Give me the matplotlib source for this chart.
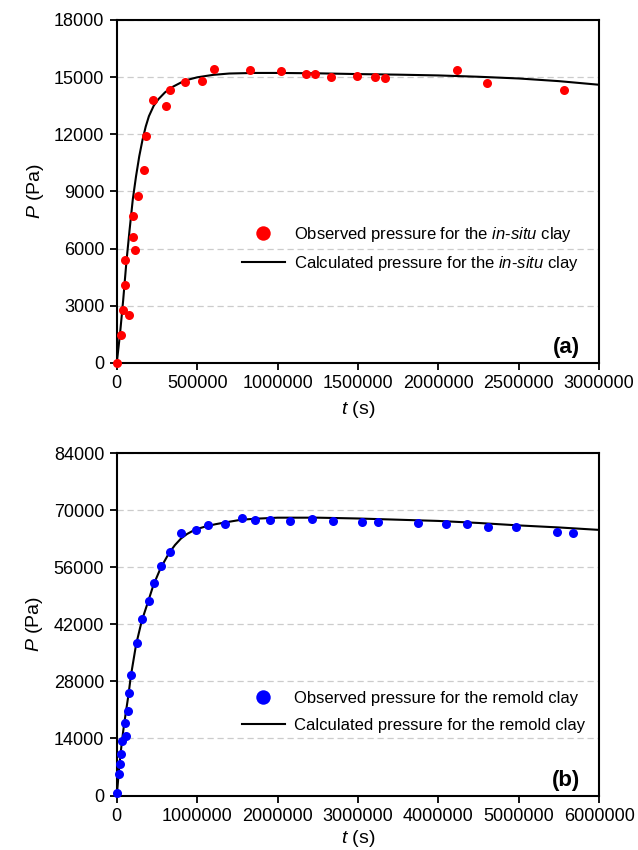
import numpy as np
import matplotlib
matplotlib.use("Agg")
import matplotlib.pyplot as plt

plt.rcParams['font.family'] = ['Liberation Sans', 'DejaVu Sans']
plt.rcParams['mathtext.fontset'] = 'custom'
plt.rcParams['mathtext.rm'] = 'Liberation Sans'
plt.rcParams['mathtext.it'] = 'Liberation Sans:italic'

# (a) in-situ clay, observed
t_obs_a = [0, 25000, 41500, 76800, 54000, 54000, 112000, 99600, 99600, 130700,
           170000, 180500, 228000, 305000, 332000, 423000, 529000, 602000, 828000,
           1023000, 1176000, 1230000, 1332000, 1496000, 1608000, 1666000,
           2114000, 2305000, 2780000]
p_obs_a = [0, 1490, 2760, 2520, 4070, 5420, 5940, 6590, 7690, 8740,
           10120, 11890, 13810, 13460, 14330, 14740, 14790, 15450, 15400,
           15310, 15140, 15140, 15030, 15050, 15010, 14960,
           15350, 14670, 14320]
# (a) calculated
t_calc_a = [0, 20000, 40000, 60000, 80000, 100000, 120000, 140000, 160000, 180000,
            200000, 230000, 260000, 300000, 350000, 400000, 450000, 500000, 600000,
            700000, 850000, 1000000, 1250000, 1500000, 1750000, 2000000, 2250000,
            2500000, 2750000, 3000000]
p_calc_a = [0, 1500, 3300, 5300, 7000, 8600, 9800, 10850, 11700, 12400,
            12950, 13500, 13850, 14200, 14500, 14720, 14880, 14990, 15120,
            15190, 15220, 15220, 15200, 15160, 15130, 15090, 15020,
            14930, 14790, 14600]

# (b) remold clay, observed
t_obs_b = [8300, 24900, 45600, 54000, 62000, 116000, 108000, 141000, 153500, 178000,
           249000, 315000, 402000, 469000, 548000, 660000, 801000, 983000, 1133000,
           1348000, 1552000, 1718000, 1909000, 2153000, 2427000, 2689000, 3050000,
           3249000, 3743000, 4100000, 4357000, 4618000, 4963000, 5473000, 5680000]
p_obs_b = [740, 5320, 7690, 10300, 13500, 14640, 17830, 20780, 25110, 29610,
           37380, 43270, 47770, 52190, 56440, 59710, 64380, 65280, 66500,
           66670, 68220, 67730, 67730, 67490, 67810, 67490, 67080,
           67240, 66910, 66670, 66670, 66010, 66010, 64700, 64380]
# (b) calculated
t_calc_b = [0, 20000, 40000, 60000, 80000, 110000, 145000, 175000, 240000, 310000,
            390000, 455000, 545000, 650000, 725000, 800000, 875000, 950000, 1030000,
            1115000, 1230000, 1340000, 1550000, 1735000, 2000000, 2500000, 3000000,
            3500000, 4000000, 4500000, 5000000, 5500000, 6000000]
p_calc_b = [0, 4500, 8800, 12500, 15800, 20000, 24600, 29300, 37000, 42800,
            47600, 51600, 55800, 59500, 61500, 63100, 64200, 65000, 65600,
            66100, 66600, 67000, 67700, 67950, 68200, 68200, 68000,
            67700, 67400, 66900, 66300, 65800, 65200]

xticks_a = [0, 500000, 1000000, 1500000, 2000000, 2500000, 3000000]
yticks_a = [0, 3000, 6000, 9000, 12000, 15000, 18000]
xticks_b = [0, 1000000, 2000000, 3000000, 4000000, 5000000, 6000000]
yticks_b = [0, 14000, 28000, 42000, 56000, 70000, 84000]

fig = plt.figure(figsize=(6.38, 8.5), dpi=100)
ax1 = fig.add_axes([0.183, 0.573, 0.756, 0.4035])
ax2 = fig.add_axes([0.183, 0.0641, 0.756, 0.4026])

panels = [
    (ax1, t_obs_a, p_obs_a, t_calc_a, p_calc_a, xticks_a, yticks_a, 'red',
     r'Observed pressure for the $\mathit{in}$-$\mathit{situ}$ clay',
     r'Calculated pressure for the $\mathit{in}$-$\mathit{situ}$ clay',
     '(a)', (0.259, 0.332), 0.62, 5),
    (ax2, t_obs_b, p_obs_b, t_calc_b, p_calc_b, xticks_b, yticks_b, 'blue',
     'Observed pressure for the remold clay',
     'Calculated pressure for the remold clay',
     '(b)', (0.259, 0.244), 0.72, 2),
]

for ax, to, po, tc, pc, xt, yt, col, lab_o, lab_c, tag, anchor, lsp, xpad in panels:
    ax.plot(tc, pc, color='black', lw=1.5, label=lab_c, zorder=3)
    ax.plot(to, po, 'o', color=col, ms=6.5, mec='none', label=lab_o, zorder=4,
            clip_on=False)
    ax.set_xlim(xt[0], xt[-1])
    ax.set_ylim(yt[0], yt[-1])
    ax.set_xticks(xt)
    ax.set_xticklabels([str(v) for v in xt])
    ax.set_yticks(yt)
    ax.set_yticklabels([str(v) for v in yt])
    ax.tick_params(direction='out', length=5, width=1.3, labelsize=13, pad=4)
    ax.yaxis.grid(True, color='#cccccc', linestyle=(0, (5, 3)), lw=0.9)
    ax.set_axisbelow(True)
    for s in ax.spines.values():
        s.set_linewidth(1.5)
    ax.set_xlabel(r'$\mathit{t}$ (s)', fontsize=14, labelpad=xpad)
    ax.set_ylabel(r'$\mathit{P}$ (Pa)', fontsize=14, labelpad=6)
    h, l = ax.get_legend_handles_labels()
    ax.legend([h[1], h[0]], [l[1], l[0]], loc='center left', bbox_to_anchor=anchor,
              frameon=False, fontsize=12, markerscale=1.6, handlelength=2.6,
              handletextpad=0.55, borderpad=0, borderaxespad=0, labelspacing=lsp)
    ax.text(0.96, 0.045, tag, transform=ax.transAxes, ha='right', va='center',
            fontsize=16, fontweight='bold')

fig.savefig('out.png', dpi=100)
